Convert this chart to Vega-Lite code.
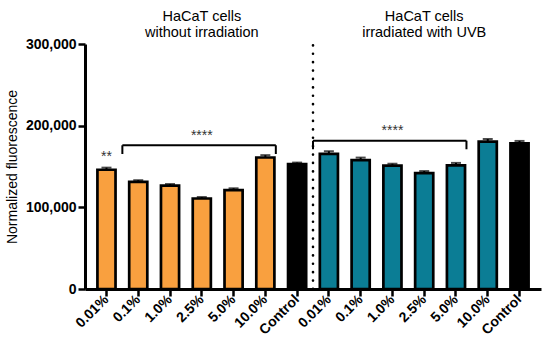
{
  "$schema": "https://vega.github.io/schema/vega-lite/v6.json",
  "autosize": {"type": "none"},
  "width": 456,
  "height": 245,
  "padding": {"left": 85, "top": 44, "right": 9, "bottom": 67},
  "config": {
    "font": "Liberation Sans",
    "view": {"stroke": null},
    "axis": {"domainColor": "black", "tickColor": "black", "labelColor": "black", "titleColor": "black", "grid": false,
             "domainWidth": 3, "tickWidth": 2.5, "tickSize": 7, "labelFontSize": 14, "labelFontWeight": "bold"},
    "axisY": {
      "labelExpr": "format(datum.value, ',')",
      "titleFontSize": 14,
      "titleFontWeight": "normal",
      "titlePadding": 6,
      "labelPadding": 2
    },
    "axisX": {
      "labelExpr": "split(datum.label, '|')[0]",
      "labelAngle": -45,
      "labelAlign": "right",
      "labelBaseline": "middle",
      "labelPadding": 1
    }
  },
  "datasets": {
    "bars": [
      {"id": "0.01%|a", "group": "orange", "value": 146000, "err": 2600},
      {"id": "0.1%|a", "group": "orange", "value": 131200, "err": 2000},
      {"id": "1.0%|a", "group": "orange", "value": 126500, "err": 2000},
      {"id": "2.5%|a", "group": "orange", "value": 110800, "err": 1800},
      {"id": "5.0%|a", "group": "orange", "value": 121000, "err": 2300},
      {"id": "10.0%|a", "group": "orange", "value": 161000, "err": 2900},
      {"id": "Control|a", "group": "control", "value": 153000, "err": 1800},
      {"id": "0.01%|b", "group": "teal", "value": 165500, "err": 3200},
      {"id": "0.1%|b", "group": "teal", "value": 157700, "err": 3200},
      {"id": "1.0%|b", "group": "teal", "value": 151000, "err": 2400},
      {"id": "2.5%|b", "group": "teal", "value": 142000, "err": 2400},
      {"id": "5.0%|b", "group": "teal", "value": 151500, "err": 2900},
      {"id": "10.0%|b", "group": "teal", "value": 180500, "err": 3200},
      {"id": "Control|b", "group": "control", "value": 178500, "err": 2800}
    ],
    "hbrackets": [
      {"from": "0.1%|a", "to": "10.0%|a", "y": 176000},
      {"from": "0.01%|b", "to": "5.0%|b", "y": 181600}
    ],
    "vbracketsL": [
      {"id": "0.1%|a", "y": 165300, "y2": 176000},
      {"id": "0.01%|b", "y": 171100, "y2": 181600}
    ],
    "vbracketsR": [
      {"id": "10.0%|a", "y": 165300, "y2": 176000},
      {"id": "5.0%|b", "y": 171100, "y2": 181600}
    ],
    "stars": [
      {"id": "0.01%|a", "y": 161500, "t": "**"},
      {"id": "2.5%|a", "y": 187000, "t": "****"},
      {"id": "1.0%|b", "y": 193000, "t": "****"}
    ],
    "titles": [
      {"id": "2.5%|a", "y": 333000, "t": "HaCaT cells"},
      {"id": "2.5%|a", "y": 313500, "t": "without irradiation"},
      {"id": "2.5%|b", "y": 333000, "t": "HaCaT cells"},
      {"id": "2.5%|b", "y": 313500, "t": "irradiated with UVB"}
    ],
    "divider": [
      {"id": "0.01%|b", "y": 0, "y2": 302000}
    ]
  },
  "encoding": {
    "x": {
      "field": "id",
      "type": "nominal",
      "sort": null,
      "title": null,
      "scale": {
        "domain": ["0.01%|a", "0.1%|a", "1.0%|a", "2.5%|a", "5.0%|a", "10.0%|a", "Control|a", "0.01%|b", "0.1%|b", "1.0%|b", "2.5%|b", "5.0%|b", "10.0%|b", "Control|b"],
        "paddingInner": 0,
        "paddingOuter": 0.176
      }
    }
  },
  "layer": [
    {
      "data": {"name": "divider"},
      "mark": {"type": "rule", "color": "black", "strokeWidth": 2.6, "strokeDash": [0.1, 8.3], "strokeCap": "round"},
      "encoding": {
        "x": {"field": "id", "type": "nominal", "bandPosition": 0, "title": null},
        "y": {"field": "y", "type": "quantitative", "title": "Normalized fluorescence", "axis": {"values": [0, 100000, 200000, 300000]}},
        "y2": {"field": "y2"}
      }
    },
    {
      "data": {"name": "bars"},
      "transform": [{"calculate": "datum.value + datum.err", "as": "top"}],
      "mark": {"type": "rule", "color": "black", "strokeWidth": 2},
      "encoding": {
        "y": {"field": "value", "type": "quantitative", "title": "Normalized fluorescence", "axis": {"values": [0, 100000, 200000, 300000]}},
        "y2": {"field": "top"}
      }
    },
    {
      "data": {"name": "bars"},
      "transform": [{"calculate": "datum.value + datum.err", "as": "top"}],
      "mark": {"type": "tick", "color": "black", "size": 10, "thickness": 2, "orient": "horizontal"},
      "encoding": {
        "y": {"field": "top", "type": "quantitative", "title": "Normalized fluorescence", "axis": {"values": [0, 100000, 200000, 300000]}}
      }
    },
    {
      "data": {"name": "bars"},
      "mark": {"type": "bar", "width": {"band": 0.57}, "stroke": "black", "strokeWidth": 2.7},
      "encoding": {
        "y": {
          "field": "value",
          "type": "quantitative",
          "title": "Normalized fluorescence",
          "scale": {"domain": [0, 300000], "nice": false, "zero": true},
          "axis": {"values": [0, 100000, 200000, 300000]}
        },
        "color": {
          "field": "group",
          "type": "nominal",
          "scale": {"domain": ["orange", "teal", "control"], "range": ["#f9a03f", "#0b7d95", "#000000"]},
          "legend": null
        }
      }
    },
    {
      "data": {"name": "hbrackets"},
      "mark": {"type": "rule", "color": "black", "strokeWidth": 2},
      "encoding": {
        "x": {"field": "from", "type": "nominal", "bandPosition": 0, "title": null},
        "x2": {"field": "to", "bandPosition": 0.83},
        "y": {"field": "y", "type": "quantitative", "title": "Normalized fluorescence", "axis": {"values": [0, 100000, 200000, 300000]}}
      }
    },
    {
      "data": {"name": "vbracketsL"},
      "mark": {"type": "rule", "color": "black", "strokeWidth": 2},
      "encoding": {
        "x": {"field": "id", "type": "nominal", "bandPosition": 0, "title": null},
        "y": {"field": "y", "type": "quantitative", "title": "Normalized fluorescence", "axis": {"values": [0, 100000, 200000, 300000]}},
        "y2": {"field": "y2"}
      }
    },
    {
      "data": {"name": "vbracketsR"},
      "mark": {"type": "rule", "color": "black", "strokeWidth": 2},
      "encoding": {
        "x": {"field": "id", "type": "nominal", "bandPosition": 0.83, "title": null},
        "y": {"field": "y", "type": "quantitative", "title": "Normalized fluorescence", "axis": {"values": [0, 100000, 200000, 300000]}},
        "y2": {"field": "y2"}
      }
    },
    {
      "data": {"name": "stars"},
      "mark": {"type": "text", "fontSize": 14, "color": "#333333", "baseline": "middle"},
      "encoding": {
        "y": {"field": "y", "type": "quantitative", "title": "Normalized fluorescence", "axis": {"values": [0, 100000, 200000, 300000]}},
        "text": {"field": "t"}
      }
    },
    {
      "data": {"name": "titles"},
      "mark": {"type": "text", "fontSize": 14.5, "color": "black", "baseline": "middle"},
      "encoding": {
        "y": {"field": "y", "type": "quantitative", "title": "Normalized fluorescence", "axis": {"values": [0, 100000, 200000, 300000]}},
        "text": {"field": "t"}
      }
    }
  ]
}
